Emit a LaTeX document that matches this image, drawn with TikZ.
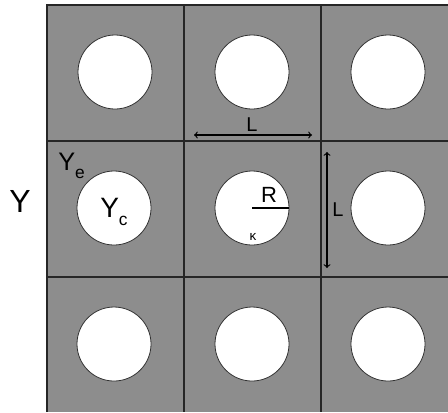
\documentclass[tikz,border=0pt]{standalone}
\usepackage{fontspec}
\setmainfont{Liberation Sans}
\usepackage{tikz}
\usetikzlibrary{arrows,shapes}
\definecolor{cellgray}{RGB}{141,141,141}
\newcommand{\subtxt}[1]{\raisebox{-6pt}{\fontsize{13}{13}\selectfont #1}}

\begin{document}
\begin{tikzpicture}[x=0.75pt, y=-0.75pt, hole/.style={circle, draw=black!80, fill=white, line width=0.6pt, inner sep=0pt, minimum size=55.5pt}, label node/.style={inner sep=0pt}, dim/.style={<->, >=to, line width=0.9pt}]
\useasboundingbox (0,0) rectangle (448,412);
\fill[cellgray] (47,5) rectangle (448,412);
\draw [black!85, line width=0.8pt] (47,412) -- (47,5) -- (448,5);
\draw [black!85, line width=0.8pt] (184,5) -- (184,412) (321,5) -- (321,412);
\draw [black!85, line width=0.8pt] (47,141) -- (448,141) (47,277) -- (448,277);
\node[hole] (c1) at (115,72) {};
\node[hole] (c2) at (252,72) {};
\node[hole] (c3) at (388,72) {};
\node[hole] (c4) at (114,208) {};
\node[hole] (c5) at (252,208) {};
\node[hole] (c6) at (388,208) {};
\node[hole] (c7) at (114,344) {};
\node[hole] (c8) at (252,344) {};
\node[hole] (c9) at (388,344) {};
\coordinate (h1) at (194,135);
\coordinate (h2) at (312,135);
\coordinate (v1) at (327,152);
\coordinate (v2) at (327,268);
\draw [dim] (h1) -- (h2);
\draw [dim] (v1) -- (v2);
\draw [line width=0.9pt] (c5.center) -- (c5.east);
\node[label node, font=\fontsize{15}{16}\selectfont] (lh) at (252,125) {L};
\node[label node, font=\fontsize{15}{16}\selectfont] (lv) at (338,210) {L};
\node[label node, font=\fontsize{16.5}{17}\selectfont] (r) at (269,195) {R};
\node[label node, font=\fontsize{10}{11}\selectfont] (k) at (253,237) {κ};
\node[label node, font=\fontsize{24}{25}\selectfont] (y) at (20,201) {Y};
\node[label node, font=\fontsize{19}{20}\selectfont, anchor=base west] (ye) at (58,170) {Y\subtxt{e}};
\node[label node, font=\fontsize{21}{22}\selectfont, anchor=base west] (yc) at (100,217) {Y\subtxt{c}};
\end{tikzpicture}
\end{document}
